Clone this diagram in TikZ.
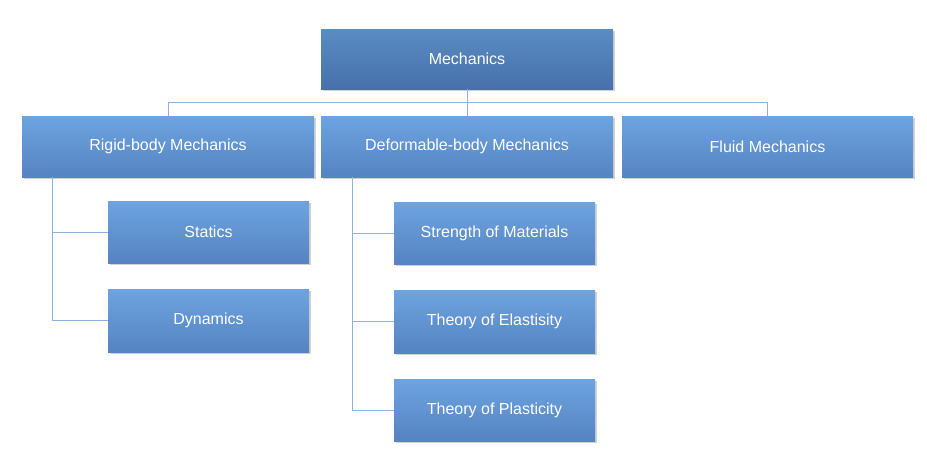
\documentclass[tikz,border=0pt]{standalone}
\usepackage{fontspec}
\setmainfont{Liberation Sans}
\usetikzlibrary{shadows}
\definecolor{lnk}{HTML}{8DB3E2}
\tikzset{x=1pt,y=-1pt,
 box/.style={draw=none,top color=#1!55!white!80!blue!30!cyan,bottom color=#1,text=white,font=\fontsize{16}{18}\selectfont,
   drop shadow={shadow xshift=1.5pt,shadow yshift=-1.5pt,opacity=0.4}},
 bx/.style={draw=none,top color=#1,bottom color=blue!30!black!20!#1,text=white,font=\fontsize{16}{18}\selectfont,
   drop shadow={shadow xshift=1.5pt,shadow yshift=-1.5pt,opacity=0.35}},
 lk/.style={draw=lnk,line width=0.8pt}}
\definecolor{c1}{HTML}{6CA4E0}
\definecolor{c0}{HTML}{5A8CC2}
\begin{document}
\begin{tikzpicture}
\useasboundingbox[fill=white] (0,0) rectangle (927,459);
\def\bxn#1#2#3#4#5#6{\node[bx=#6,minimum width=#3-#1,minimum height=#4-#2,inner sep=0pt] (#5) at ({(#1+#3)/2},{(#2+#4)/2})}
\bxn{321}{29}{613}{89}{m}{c0} {Mechanics};
\bxn{22}{116}{314}{177}{r}{c1} {Rigid-body Mechanics};
\bxn{321}{116}{613}{177}{d}{c1} {Deformable-body Mechanics};
\bxn{622}{116}{913}{177}{f}{c1} {Fluid Mechanics};
\bxn{108}{201}{309}{263}{s}{c1} {Statics};
\bxn{108}{289}{309}{352}{dy}{c1} {Dynamics};
\bxn{394}{202}{595}{264}{sm}{c1} {Strength of Materials};
\bxn{394}{290}{595}{353}{te}{c1} {Theory of Elastisity};
\bxn{394}{379}{595}{441}{tp}{c1} {Theory of Plasticity};
\draw[lk] (m.south) -- (m.south|-0,102) coordinate (h);
\draw[lk] (r.north) -- (r.north|-h) -- (f.north|-h) -- (f.north);
\draw[lk] (d.north) -- (d.north|-h);
\coordinate (ra) at (52,177);
\draw[lk] (ra) |- (dy.west);
\draw[lk] (ra|-s.west) -- (s.west);
\coordinate (da) at (352,177);
\draw[lk] (da) |- (tp.west);
\draw[lk] (da|-sm.west) -- (sm.west);
\draw[lk] (da|-te.west) -- (te.west);
\end{tikzpicture}
\end{document}
